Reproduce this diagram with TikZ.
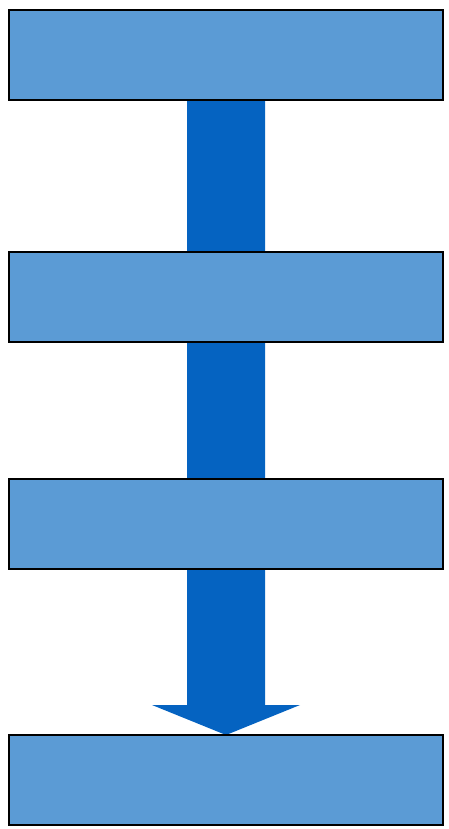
\documentclass[tikz,border=0pt]{standalone}
\usetikzlibrary{calc,backgrounds}
\definecolor{boxfill}{HTML}{5B9BD5}
\definecolor{arrowfill}{HTML}{0563C1}
\tikzset{
  stagebox/.style={draw=black, line width=1.2pt, fill=boxfill, minimum width=434pt, minimum height=90pt, inner sep=0pt, outer sep=0pt, anchor=north west},
  blockarrow/.style={fill=arrowfill, draw=none},
}
\begin{document}
\begin{tikzpicture}[x=1pt,y=-1pt]
\useasboundingbox (0,0) rectangle (449,829);
\node[stagebox] (b1) at (9,10) {};
\node[stagebox] (b2) at (9,252) {};
\node[stagebox] (b3) at (9,479) {};
\node[stagebox] (b4) at (9,735) {};
% block arrow from first box to last box, behind the boxes
\begin{scope}[on background layer]
\fill[blockarrow]
  ($(b1.south)+(-39,0)$) -- ($(b1.south)+(39,0)$)
  -- ($(b4.north)+(39,-30)$) -- ($(b4.north)+(74,-30)$)
  -- (b4.north)
  -- ($(b4.north)+(-74,-30)$) -- ($(b4.north)+(-39,-30)$) -- cycle;
\end{scope}
\end{tikzpicture}
\end{document}
